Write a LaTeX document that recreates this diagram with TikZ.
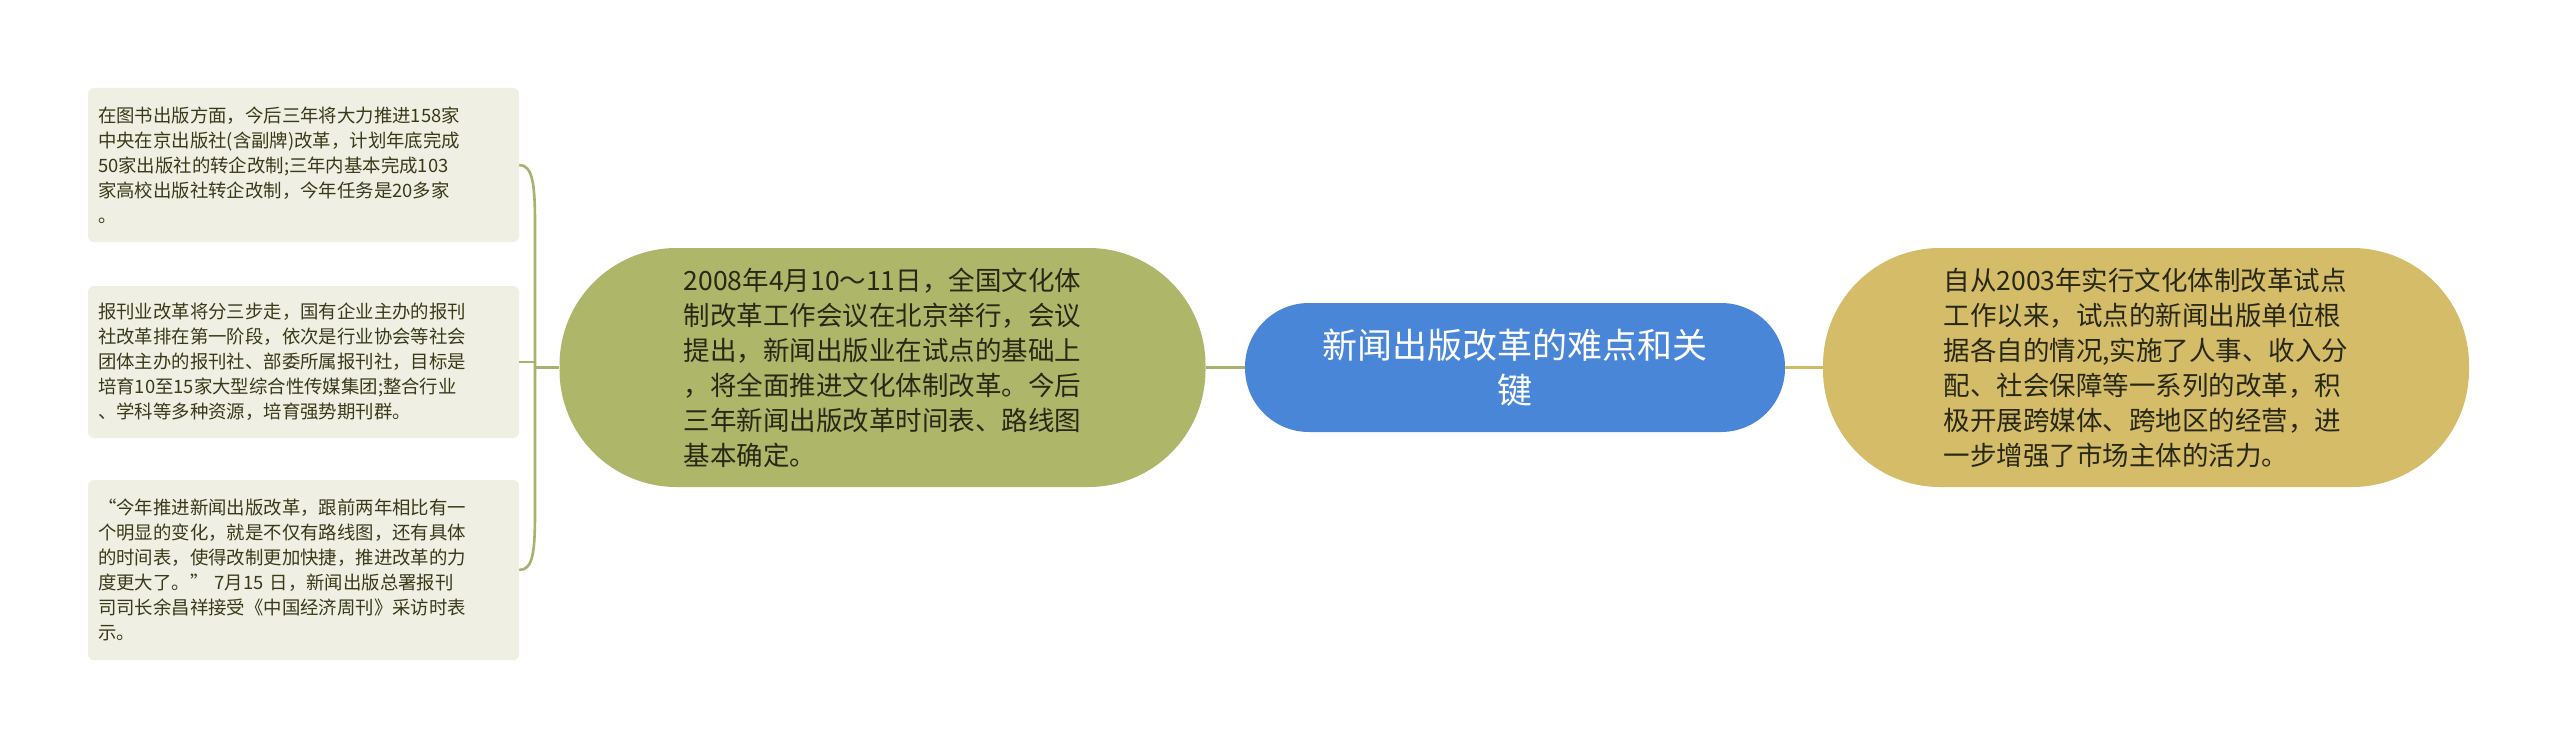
\documentclass[tikz,border=0pt]{standalone}
\usepackage{fontspec}
\newfontfamily\cjk{Noto Sans CJK SC}
\definecolor{leaffill}{RGB}{239,239,228}
\definecolor{leaftext}{RGB}{58,58,24}
\definecolor{greennode}{RGB}{174,182,106}
\definecolor{goldnode}{RGB}{212,188,104}
\definecolor{bluenode}{RGB}{74,134,216}
\definecolor{bracecol}{RGB}{168,178,110}
\definecolor{goldline}{RGB}{210,186,100}
\definecolor{darktext}{RGB}{40,40,20}
\begin{document}
\begin{tikzpicture}[x=1pt,y=-1pt,
  leaf/.style={draw=none,fill=leaffill,rounded corners=6pt,minimum width=431pt,
    text width=411pt,inner xsep=10pt,inner ysep=0pt,align=left,text=leaftext,
    font=\cjk\fontsize{18.4}{25}\selectfont},
  bignode/.style={draw=none,rounded corners=117pt,minimum width=646pt,minimum height=239pt,
    align=left,text=darktext,inner sep=0pt,font=\cjk\fontsize{26.5}{35}\selectfont},
  rootnode/.style={draw=none,fill=bluenode,rounded corners=64pt,minimum width=540pt,minimum height=129pt,
    align=center,text=white,inner sep=0pt,font=\cjk\fontsize{35}{44.5}\selectfont},
  brace/.style={draw=bracecol,line width=2.6pt},
  gline/.style={draw=bracecol,line width=2.6pt},
  oline/.style={draw=goldline,line width=3pt}]
\useasboundingbox[fill=white] (0,0) rectangle (2560,749);

\node[leaf,minimum height=154pt] (leaf1) at (303.5,165) {在图书出版方面，今后三年将大力推进158家\\中央在京出版社(含副牌)改革，计划年底完成\\50家出版社的转企改制;三年内基本完成103\\家高校出版社转企改制，今年任务是20多家\\。};
\node[leaf,minimum height=152pt] (leaf2) at (303.5,362) {报刊业改革将分三步走，国有企业主办的报刊\\社改革排在第一阶段，依次是行业协会等社会\\团体主办的报刊社、部委所属报刊社，目标是\\培育10至15家大型综合性传媒集团;整合行业\\、学科等多种资源，培育强势期刊群。};
\node[leaf,minimum height=180pt] (leaf3) at (303.5,570) {“今年推进新闻出版改革，跟前两年相比有一\\个明显的变化，就是不仅有路线图，还有具体\\的时间表，使得改制更加快捷，推进改革的力\\度更大了。” 7月15 日，新闻出版总署报刊\\司司长余昌祥接受《中国经济周刊》采访时表\\示。};

\node[bignode,fill=greennode] (green) at (882.5,367.5) {2008年4月10～11日，全国文化体\\制改革工作会议在北京举行，会议\\提出，新闻出版业在试点的基础上\\，将全面推进文化体制改革。今后\\三年新闻出版改革时间表、路线图\\基本确定。};
\node[rootnode] (root) at (1515,367.5) {新闻出版改革的难点和关\\键};
\node[bignode,fill=goldnode] (gold) at (2146,367.5) {自从2003年实行文化体制改革试点\\工作以来，试点的新闻出版单位根\\据各自的情况,实施了人事、收入分\\配、社会保障等一系列的改革，积\\极开展跨媒体、跨地区的经营，进\\一步增强了市场主体的活力。};

\coordinate (btop) at (535,225);
\coordinate (bbot) at (535,512);
\coordinate (bmid) at (535,367.5);
\draw[brace] (leaf1.east) .. controls (533,165) and (535,185) .. (btop) -- (bbot) .. controls (535,552) and (533,570) .. (leaf3.east);
\draw[brace] (leaf2.east) -- (leaf2.east -| bmid);
\draw[brace] (bmid) -- (green.west);
\draw[gline] (green.east) -- (root.west);
\draw[oline] (root.east) -- (gold.west);
\end{tikzpicture}
\end{document}
